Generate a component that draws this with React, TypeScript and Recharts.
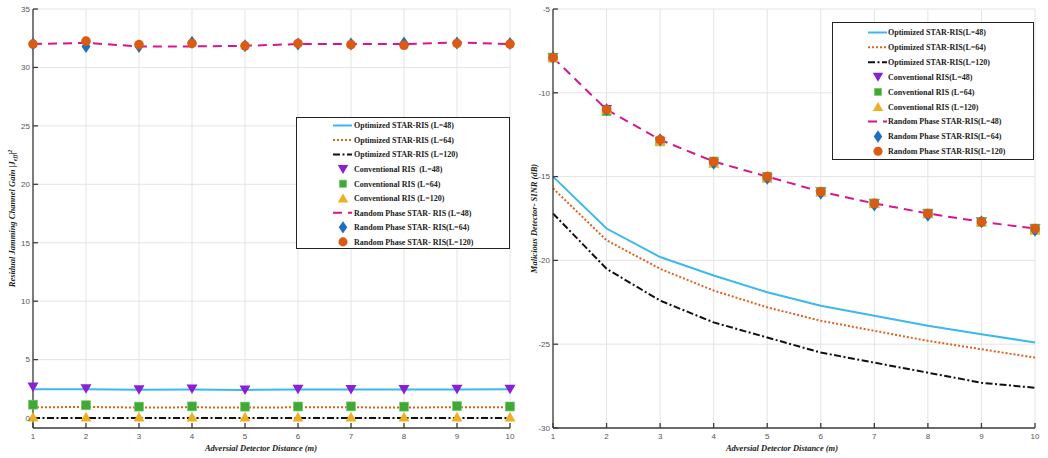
import React from 'react'
import { LineChart, Line, XAxis, YAxis, CartesianGrid, Legend } from 'recharts'

// x axis: adversarial detector distance (m)
const distance = [1, 2, 3, 4, 5, 6, 7, 8, 9, 10]

// left panel: residual jamming channel gain
const gainTicks = [0, 5, 10, 15, 20, 25, 30, 35]
const gainOpt48 = [2.47, 2.46, 2.42, 2.45, 2.41, 2.45, 2.45, 2.45, 2.45, 2.46]
const gainOpt64 = [0.92, 0.95, 0.9, 0.92, 0.9, 0.92, 0.92, 0.9, 0.93, 0.92]
const gainOpt120 = [0, 0, 0, 0, 0, 0, 0, 0, 0, 0]
const gainConv48 = [2.65, 2.5, 2.42, 2.48, 2.41, 2.47, 2.45, 2.45, 2.46, 2.46]
const gainConv64 = [1.15, 1.1, 0.98, 1.0, 0.98, 0.99, 1.0, 0.98, 1.02, 0.99]
const gainConv120 = [0.1, 0.1, 0.1, 0.1, 0.1, 0.1, 0.1, 0.1, 0.1, 0.1]
const gainRand48 = [32.0, 32.1, 31.8, 31.8, 31.85, 32.0, 32.0, 32.0, 32.15, 32.0]
const gainRand64 = [32.0, 31.8, 31.8, 32.15, 31.85, 32.0, 32.0, 32.1, 32.1, 32.05]
const gainRand120 = [32.0, 32.25, 31.95, 32.05, 31.85, 32.05, 31.95, 31.9, 32.05, 32.0]

// right panel: malicious detector SINR (dB)
const sinrTicks = [-30, -25, -20, -15, -10, -5]
const sinrOpt48 = [-15.0, -18.1, -19.8, -20.9, -21.9, -22.7, -23.3, -23.9, -24.4, -24.9]
const sinrOpt64 = [-15.7, -18.8, -20.5, -21.8, -22.8, -23.6, -24.2, -24.8, -25.3, -25.8]
const sinrOpt120 = [-17.2, -20.5, -22.4, -23.7, -24.6, -25.5, -26.1, -26.7, -27.3, -27.6]
const sinrConv48 = [-7.9, -11.0, -12.9, -14.2, -15.1, -15.9, -16.6, -17.2, -17.7, -18.1]
const sinrConv64 = [-7.9, -11.1, -12.9, -14.1, -15.0, -15.9, -16.6, -17.2, -17.7, -18.1]
const sinrConv120 = [-7.9, -11.0, -12.9, -14.2, -15.1, -15.9, -16.6, -17.2, -17.7, -18.2]
const sinrRand48 = [-7.9, -11.0, -12.8, -14.1, -15.0, -15.9, -16.6, -17.2, -17.7, -18.1]
const sinrRand64 = [-7.9, -11.0, -12.8, -14.2, -15.1, -16.0, -16.7, -17.3, -17.7, -18.2]
const sinrRand120 = [-7.9, -11.0, -12.8, -14.1, -15.0, -15.9, -16.6, -17.2, -17.7, -18.1]

const leftNames = [
  'Optimized STAR-RIS (L=48)',
  'Optimized STAR-RIS (L=64)',
  'Optimized STAR-RIS (L=120)',
  'Conventional RIS  (L=48)',
  'Conventional RIS (L=64)',
  'Conventional RIS (L=120)',
  'Random Phase STAR- RIS (L=48)',
  'Random Phase STAR- RIS(L=64)',
  'Random Phase STAR- RIS(L=120)',
]
const rightNames = [
  'Optimized STAR-RIS(L=48)',
  'Optimized STAR-RIS(L=64)',
  'Optimized STAR-RIS(L=120)',
  'Conventional RIS(L=48)',
  'Conventional RIS (L=64)',
  'Conventional RIS (L=120)',
  'Random Phase STAR-RIS(L=48)',
  'Random Phase STAR-RIS(L=64)',
  'Random Phase STAR-RIS(L=120)',
]

type MarkerKind = 'triDown' | 'triUp' | 'square' | 'diamond' | 'circle'
interface SeriesStyle {
  key: string
  color: string
  dash?: string
  marker?: MarkerKind
}

// same drawing order for both panels (later ones sit on top)
const SERIES: SeriesStyle[] = [
  { key: 'opt48', color: '#3bb9ec' },
  { key: 'opt64', color: '#e0601c', dash: '2 2' },
  { key: 'opt120', color: '#111111', dash: '7 2.5 2 2.5' },
  { key: 'conv48', color: '#8a1fd8', marker: 'triDown' },
  { key: 'conv64', color: '#3caa35', marker: 'square' },
  { key: 'conv120', color: '#ecb022', marker: 'triUp' },
  { key: 'rand48', color: '#d8148f', dash: '9 6' },
  { key: 'rand64', color: '#1f6fc0', marker: 'diamond' },
  { key: 'rand120', color: '#dc5a12', marker: 'circle' },
]

const leftRows = distance.map((d, i) => ({
  d,
  opt48: gainOpt48[i], opt64: gainOpt64[i], opt120: gainOpt120[i],
  conv48: gainConv48[i], conv64: gainConv64[i], conv120: gainConv120[i],
  rand48: gainRand48[i], rand64: gainRand64[i], rand120: gainRand120[i],
}))
const rightRows = distance.map((d, i) => ({
  d,
  opt48: sinrOpt48[i], opt64: sinrOpt64[i], opt120: sinrOpt120[i],
  conv48: sinrConv48[i], conv64: sinrConv64[i], conv120: sinrConv120[i],
  rand48: sinrRand48[i], rand64: sinrRand64[i], rand120: sinrRand120[i],
}))

const AXIS = '#3c3c3c'
const GRID = '#e4e4e4'
const TICK_FONT = { fontSize: 8, fill: '#555', fontFamily: 'Liberation Sans, Arial, sans-serif' }
const SERIF = '"Liberation Serif", "Times New Roman", serif'

function Marker({ kind, cx, cy, color, s = 1 }: { kind: MarkerKind; cx: number; cy: number; color: string; s?: number }) {
  if (cx == null || cy == null) return null
  switch (kind) {
    case 'triDown':
      return <polygon points={`${cx - 5.5 * s},${cy - 4.5 * s} ${cx + 5.5 * s},${cy - 4.5 * s} ${cx},${cy + 5 * s}`} fill={color} />
    case 'triUp':
      return <polygon points={`${cx - 5.5 * s},${cy + 4.5 * s} ${cx + 5.5 * s},${cy + 4.5 * s} ${cx},${cy - 5 * s}`} fill={color} />
    case 'square':
      return <rect x={cx - 4.5 * s} y={cy - 4.5 * s} width={9 * s} height={9 * s} fill={color} stroke="#7cc96f" strokeWidth={0.6} />
    case 'diamond':
      return <polygon points={`${cx},${cy - 6.5 * s} ${cx + 4.5 * s},${cy} ${cx},${cy + 6.5 * s} ${cx - 4.5 * s},${cy}`} fill={color} />
    default:
      return <circle cx={cx} cy={cy} r={4.8 * s} fill={color} />
  }
}

interface LegendLayout {
  left: number
  top: number
  width: number
  height: number
  lineX: number
  textX: number
  firstRow: number
  rowGap: number
}

function LegendBox({ names, box }: { names: string[]; box: LegendLayout }) {
  const lineEnd = box.lineX + 19
  const mx = box.lineX + 10
  return (
    <svg width={box.width} height={box.height} style={{ display: 'block' }}>
      <rect x={0.5} y={0.5} width={box.width - 1} height={box.height - 1} fill="#fff" stroke="#222" strokeWidth={1} />
      {SERIES.map((s, i) => {
        const y = box.firstRow + i * box.rowGap
        return (
          <g key={s.key}>
            {s.marker ? (
              <Marker kind={s.marker} cx={mx} cy={y} color={s.color} s={s.marker === 'square' ? 0.8 : 0.95} />
            ) : (
              <line x1={box.lineX} x2={lineEnd} y1={y} y2={y} stroke={s.color} strokeWidth={2} strokeDasharray={s.dash} />
            )}
            <text x={box.textX} y={y + 2.8} fontSize={8} fontWeight="bold" fontFamily={SERIF} fill="#222" style={{ whiteSpace: 'pre' }}>
              {names[i]}
            </text>
          </g>
        )
      })}
    </svg>
  )
}

interface PanelProps {
  rows: Record<string, number>[]
  width: number
  marginRight: number
  domain: [number, number]
  ticks: number[]
  names: string[]
  legend: LegendLayout
  yTitle: React.ReactNode
  yTitleX: number
  xTitleX: number
}

const H = 458
const TOP = 9
const BOTTOM = 428

function Panel({ rows, width, marginRight, domain, ticks, names, legend, yTitle, yTitleX, xTitleX }: PanelProps) {
  const midY = (TOP + BOTTOM) / 2
  return (
    <LineChart width={width} height={H} data={rows} margin={{ top: TOP, right: marginRight, bottom: 0, left: 0 }}>
      <CartesianGrid stroke={GRID} strokeWidth={1} />
      <XAxis
        dataKey="d"
        type="number"
        domain={[1, 10]}
        ticks={distance}
        height={H - BOTTOM}
        stroke={AXIS}
        strokeWidth={1.3}
        tickSize={-5}
        tickMargin={10}
        tick={TICK_FONT}
        label={() => (
          <text x={xTitleX} y={451} textAnchor="middle" fontSize={8.5} fontStyle="italic" fontWeight="bold" fontFamily={SERIF} fill="#222">
            Adversial Detector Distance (m)
          </text>
        )}
      />
      <XAxis xAxisId="top" orientation="top" dataKey="d" type="number" domain={[1, 10]} ticks={distance} height={0} stroke={AXIS} strokeWidth={1.3} tickSize={-5} tick={false} />
      <YAxis
        type="number"
        domain={domain}
        ticks={ticks}
        allowDataOverflow
        width={33}
        stroke={AXIS}
        strokeWidth={1.3}
        tickSize={-5}
        tickMargin={8}
        tick={TICK_FONT}
        label={() => (
          <text x={yTitleX} y={midY} transform={`rotate(-90 ${yTitleX} ${midY})`} textAnchor="middle" fontSize={8.5} fontStyle="italic" fontWeight="bold" fontFamily={SERIF} fill="#222">
            {yTitle}
          </text>
        )}
      />
      <YAxis yAxisId="right" orientation="right" type="number" domain={domain} ticks={ticks} allowDataOverflow width={0} stroke={AXIS} strokeWidth={1.3} tickSize={-5} tick={false} />
      {SERIES.map((s) =>
        s.marker ? (
          <Line
            key={s.key}
            dataKey={s.key}
            stroke="none"
            isAnimationActive={false}
            activeDot={false}
            dot={(p: any) => <Marker key={`${s.key}-${p.index}`} kind={s.marker as MarkerKind} cx={p.cx} cy={p.cy} color={s.color} />}
          />
        ) : (
          <Line
            key={s.key}
            dataKey={s.key}
            type="linear"
            stroke={s.color}
            strokeWidth={2}
            strokeDasharray={s.dash}
            dot={false}
            activeDot={false}
            isAnimationActive={false}
          />
        ),
      )}
      <Legend
        layout="vertical"
        align="center"
        verticalAlign="middle"
        wrapperStyle={{ left: legend.left, top: legend.top, width: legend.width, height: legend.height }}
        content={() => <LegendBox names={names} box={legend} />}
      />
    </LineChart>
  )
}

export default function App() {
  return (
    <div style={{ position: 'fixed', left: 0, top: 0, width: 1048, height: H, background: '#fff' }}>
      <div style={{ position: 'absolute', left: 0, top: 0 }}>
        <Panel
          rows={leftRows}
          width={520}
          marginRight={10}
          domain={[-0.85, 35]}
          ticks={gainTicks}
          names={leftNames}
          legend={{ left: 296, top: 117, width: 214, height: 132, lineX: 37, textX: 58, firstRow: 8.5, rowGap: 14.55 }}
          yTitleX={15}
          xTitleX={261}
          yTitle={
            <>
              Residual Jamming Channel Gain |J
              <tspan fontSize={6} dy={2}>eff</tspan>
              <tspan dy={-2}>|</tspan>
              <tspan fontSize={6} dy={-3.5}>2</tspan>
            </>
          }
        />
      </div>
      <div style={{ position: 'absolute', left: 520, top: 0 }}>
        <Panel
          rows={rightRows}
          width={528}
          marginRight={13}
          domain={[-30, -5]}
          ticks={sinrTicks}
          names={rightNames}
          legend={{ left: 312, top: 22, width: 202, height: 138, lineX: 36, textX: 56, firstRow: 10.5, rowGap: 14.85 }}
          yTitleX={17}
          xTitleX={262}
          yTitle="Malicious Detector- SINR (dB)"
        />
      </div>
    </div>
  )
}
